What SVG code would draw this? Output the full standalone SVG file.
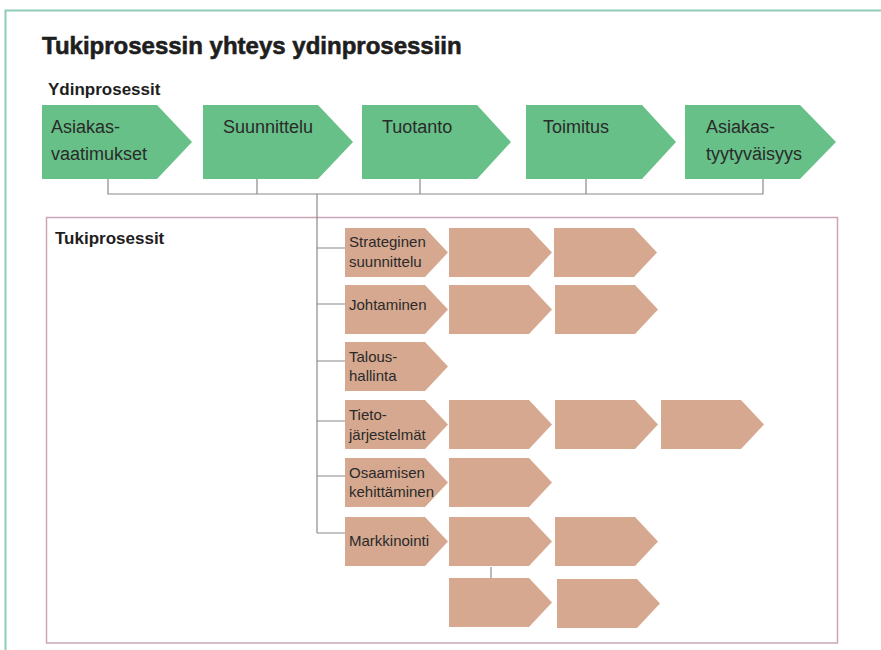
<svg xmlns="http://www.w3.org/2000/svg" width="881" height="650" viewBox="0 0 881 650">
<style>
.core{fill:#66c087}
.sup{fill:#d5a88f}
.t{font-family:"Liberation Sans",Arial,sans-serif;fill:#2a2a2a}
.g{font-size:18px}
.p{font-size:15px}
.h{font-weight:bold;fill:#1e1e1e}
.ln{stroke:#8a8a8a;stroke-width:1.2;fill:none}
</style>
<rect width="881" height="650" fill="#ffffff"/>
<path d="M5.5,650 V10.5 H881" fill="none" stroke="#8fcdb6" stroke-width="2"/>
<rect x="46.5" y="217.5" width="791" height="425.5" fill="none" stroke="#c9a5b6" stroke-width="1.5"/>
<text class="t h" x="42" y="54" font-size="24" stroke="#1e1e1e" stroke-width="0.6">Tukiprosessin yhteys ydinprosessiin</text>
<text class="t h" x="48" y="95" font-size="17">Ydinprosessit</text>
<text class="t h" x="55" y="244" font-size="17">Tukiprosessit</text>
<g id="connectors">
<path class="ln" d="M108,179 V194 H763 V179 M257,179 V194 M420,179 V194 M586,179 V194"/>
<path class="ln" stroke="#6f6f6f" d="M317,194 V533"/>
<path class="ln" d="M317,248 H345 M317,304 H345 M317,361 H345 M317,421 H345 M317,476 H345 M317,533 H345"/>
<path class="ln" d="M491,567 V578"/>
</g>
<g id="core1"><polygon class="core" points="42,105 157,105 192,142 157,179 42,179"/><text class="t g" x="51" y="133">Asiakas-</text><text class="t g" x="51" y="160">vaatimukset</text></g>
<g id="core2"><polygon class="core" points="203,105 318,105 353,142 318,179 203,179"/><text class="t g" x="223" y="133">Suunnittelu</text></g>
<g id="core3"><polygon class="core" points="362,105 477,105 511,142 477,179 362,179"/><text class="t g" x="382" y="133">Tuotanto</text></g>
<g id="core4"><polygon class="core" points="526,105 642,105 676,142 642,179 526,179"/><text class="t g" x="543" y="133">Toimitus</text></g>
<g id="core5"><polygon class="core" points="685,105 800,105 836,142 800,179 685,179"/><text class="t g" x="706" y="133">Asiakas-</text><text class="t g" x="706" y="160">tyytyväisyys</text></g>
<defs>
<polygon id="chev" points="0,0 80,0 103,24.5 80,49 0,49"/>
</defs>
<g id="s1"><use href="#chev" class="sup" x="345" y="228"/><text class="t p" x="349" y="247">Strateginen</text><text class="t p" x="349" y="267">suunnittelu</text></g>
<g id="s1b"><use href="#chev" class="sup" x="449" y="228"/></g>
<g id="s1c"><use href="#chev" class="sup" x="554" y="228"/></g>
<g id="s2"><use href="#chev" class="sup" x="345" y="285"/><text class="t p" x="349" y="310">Johtaminen</text></g>
<g id="s2b"><use href="#chev" class="sup" x="449" y="285"/></g>
<g id="s2c"><use href="#chev" class="sup" x="555" y="285"/></g>
<g id="s3"><use href="#chev" class="sup" x="345" y="342"/><text class="t p" x="349" y="362">Talous-</text><text class="t p" x="349" y="381">hallinta</text></g>
<g id="s4"><use href="#chev" class="sup" x="345" y="400"/><text class="t p" x="349" y="420">Tieto-</text><text class="t p" x="349" y="440">järjestelmät</text></g>
<g id="s4b"><use href="#chev" class="sup" x="449" y="400"/></g>
<g id="s4c"><use href="#chev" class="sup" x="555" y="400"/></g>
<g id="s4d"><use href="#chev" class="sup" x="661" y="400"/></g>
<g id="s5"><use href="#chev" class="sup" x="345" y="458"/><text class="t p" x="349" y="478">Osaamisen</text><text class="t p" x="349" y="497">kehittäminen</text></g>
<g id="s5b"><use href="#chev" class="sup" x="449" y="458"/></g>
<g id="s6"><use href="#chev" class="sup" x="345" y="517"/><text class="t p" x="349" y="546">Markkinointi</text></g>
<g id="s6b"><use href="#chev" class="sup" x="449" y="517"/></g>
<g id="s6c"><use href="#chev" class="sup" x="555" y="517"/></g>
<g id="s7b"><use href="#chev" class="sup" x="449" y="578"/></g>
<g id="s7c"><use href="#chev" class="sup" x="557" y="579"/></g>
</svg>
